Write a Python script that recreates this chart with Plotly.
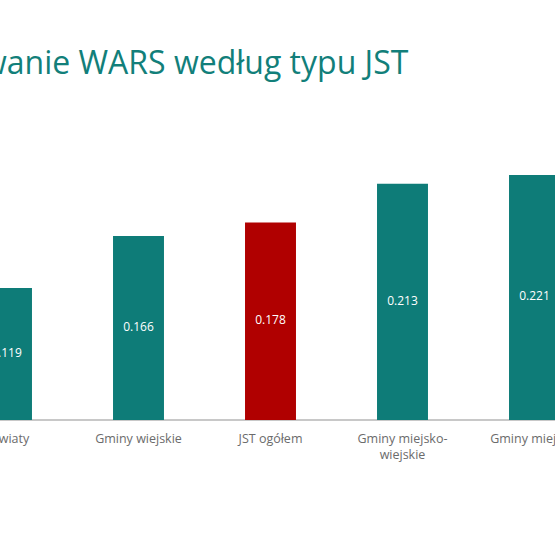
import plotly.graph_objects as go

categories = ["Powiaty", "Gminy wiejskie", "JST ogółem", "Gminy miejsko-<br>wiejskie", "Gminy miejskie"]
values = [0.119, 0.166, 0.178, 0.213, 0.221]
labels = ["0.119", "0.166", "0.178", "0.213", "0.221"]
colors = ["#0e7c78", "#0e7c78", "#b00000", "#0e7c78", "#0e7c78"]
title_text = "Zróżnicowanie WARS według typu JST"

xs = list(range(len(categories)))
fig = go.Figure(go.Bar(
    x=xs, y=values,
    marker=dict(color=colors, line=dict(width=0)),
    width=0.386, cliponaxis=True, hoverinfo="skip",
))
fig.add_trace(go.Scatter(
    x=xs, y=[v / 2 for v in values], text=labels, mode="text",
    textposition="middle center",
    textfont=dict(color="white", size=12, family="Open Sans"),
    cliponaxis=True,
))

fig.update_layout(
    width=555, height=555,
    margin=dict(l=0, r=0, t=120, b=135, autoexpand=False),
    plot_bgcolor="white", paper_bgcolor="white",
    showlegend=False,
    font=dict(family="Open Sans"),
    annotations=[dict(
        text=title_text, xref="paper", yref="paper",
        x=411/555, y=1, yshift=120 - 61, xanchor="right", yanchor="middle",
        showarrow=False, font=dict(size=32, color="#127f7a", family="Open Sans"),
    )],
)
fig.update_xaxes(
    range=[-6.5/132, (555-6.5)/132], automargin=False,
    tickmode="array", tickvals=xs, ticktext=categories,
    tickfont=dict(size=12.5, color="#6b6b6b", family="Open Sans"),
    ticklabeloverflow="allow", ticklabelstandoff=9,
    showgrid=False, zeroline=False, showline=False, ticks="",
)
fig.update_yaxes(
    range=[0, 300/1109], showticklabels=False, showgrid=False, automargin=False,
    zeroline=True, zerolinecolor="#c8c8c8", zerolinewidth=1.5, showline=False,
)

fig.write_html("out.html")
